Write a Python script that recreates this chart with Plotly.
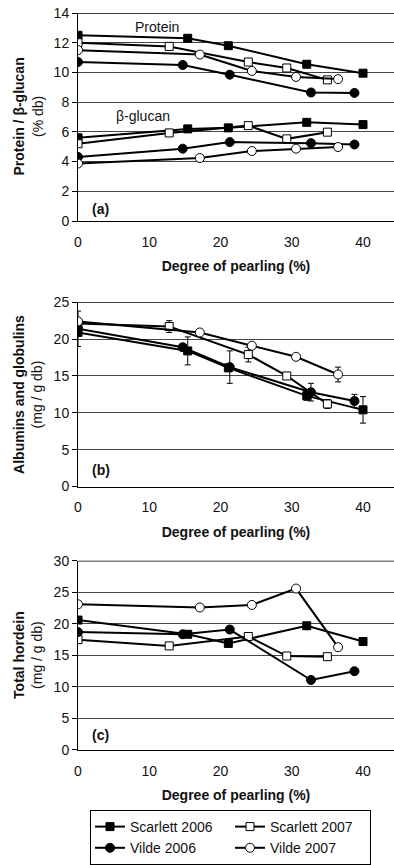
import plotly.graph_objects as go

FONT = "Arial, Liberation Sans, sans-serif"

# ---------------- Data ----------------
series_names = ["Scarlett 2006", "Scarlett 2007", "Vilde 2006", "Vilde 2007"]

# Degree of pearling (%)
x_s06 = [0, 15.4, 21.1, 32.1, 40.0]
x_s07 = [0, 12.8, 23.9, 29.3, 35.0]
x_v06 = [0, 14.7, 21.3, 32.7, 38.8]
x_v07 = [0, 17.1, 24.4, 30.6, 36.5]

# (a) Protein (% db)
prot_s06 = [12.5, 12.3, 11.8, 10.55, 9.95]
prot_s07 = [12.0, 11.75, 10.7, 10.3, 9.5]
prot_v06 = [10.7, 10.5, 9.85, 8.65, 8.62]
prot_v07 = [11.5, 11.2, 10.1, 9.7, 9.55]

# (a) beta-glucan (% db)
bg_s06 = [5.6, 6.2, 6.27, 6.64, 6.49]
bg_s07 = [5.2, 5.93, 6.42, 5.53, 5.98]
bg_v06 = [4.31, 4.87, 5.31, 5.24, 5.15]
bg_v07 = [3.87, 4.24, 4.71, 4.87, 4.98]

# (b) Albumins and globulins (mg / g db) with error bars
ag_s06 = [20.9, 18.4, 16.1, 12.3, 10.4]
ag_s06_err = [0.5, 1.9, 0.5, 0.6, 1.8]
ag_s07 = [22.1, 21.7, 17.9, 15.0, 11.2]
ag_s07_err = [0.4, 0.8, 1.0, 0.4, 0.6]
ag_v06 = [21.4, 18.9, 16.2, 12.8, 11.6]
ag_v06_err = [2.4, 0.5, 2.2, 1.2, 0.9]
ag_v07 = [22.4, 20.9, 19.1, 17.6, 15.2]
ag_v07_err = [0.3, 0.3, 0.3, 0.3, 1.0]

# (c) Total hordein (mg / g db)
hd_s06 = [20.6, 18.35, 16.9, 19.7, 17.2]
hd_s07 = [17.5, 16.5, 18.0, 14.9, 14.8]
hd_v06 = [18.7, 18.35, 19.1, 11.1, 12.5]
hd_v07 = [23.1, 22.6, 23.0, 25.6, 16.3]

# ---------------- Styles ----------------
styles = {
    "Scarlett 2006": dict(symbol="square", color="black", size=8),
    "Scarlett 2007": dict(symbol="square", color="white", size=8),
    "Vilde 2006": dict(symbol="circle", color="black", size=9),
    "Vilde 2007": dict(symbol="circle", color="white", size=9),
}

X = {"Scarlett 2006": x_s06, "Scarlett 2007": x_s07, "Vilde 2006": x_v06, "Vilde 2007": x_v07}
PROT = {"Scarlett 2006": prot_s06, "Scarlett 2007": prot_s07, "Vilde 2006": prot_v06, "Vilde 2007": prot_v07}
BG = {"Scarlett 2006": bg_s06, "Scarlett 2007": bg_s07, "Vilde 2006": bg_v06, "Vilde 2007": bg_v07}
AG = {"Scarlett 2006": ag_s06, "Scarlett 2007": ag_s07, "Vilde 2006": ag_v06, "Vilde 2007": ag_v07}
AGE = {"Scarlett 2006": ag_s06_err, "Scarlett 2007": ag_s07_err, "Vilde 2006": ag_v06_err, "Vilde 2007": ag_v07_err}
HD = {"Scarlett 2006": hd_s06, "Scarlett 2007": hd_s07, "Vilde 2006": hd_v06, "Vilde 2007": hd_v07}

fig = go.Figure()


def add(name, x, y, xa, ya, show=False, err=None):
    st = styles[name]
    kw = {}
    if err is not None:
        kw["error_y"] = dict(type="data", array=err, visible=True, color="black",
                             thickness=1, width=3)
    fig.add_trace(go.Scatter(
        x=x, y=y, mode="lines+markers", name=name, legendgroup=name,
        showlegend=show, xaxis=xa, yaxis=ya,
        line=dict(color="black", width=2),
        marker=dict(symbol=st["symbol"], size=st["size"], color=st["color"],
                    line=dict(color="black", width=1)),
        **kw))


order = ["Scarlett 2006", "Scarlett 2007", "Vilde 2006", "Vilde 2007"]
for n in order:
    add(n, X[n], PROT[n], "x", "y", show=True)
    add(n, X[n], BG[n], "x", "y")
for n in order:
    add(n, X[n], AG[n], "x2", "y2", err=AGE[n])
for n in order:
    add(n, X[n], HD[n], "x3", "y3")

# ---------------- Layout ----------------
W, H = 394, 865
ml, mr, mt, mb = 78, 0, 13, 108
ph = H - mt - mb


def dom(top_px, bot_px):
    return [(H - mb - bot_px) / ph, (H - mb - top_px) / ph]


FS = 14
tickfont = dict(family=FONT, size=FS, color="#111")
xcommon = dict(range=[0, 44.35], tickvals=[0, 10, 20, 30, 40], showgrid=False,
               zeroline=False, showline=True, linecolor="black", linewidth=1,
               ticks="", tickfont=tickfont, ticklabelstandoff=8,
               title=dict(text="<b>Degree of pearling (%)</b>",
                          font=dict(family=FONT, size=FS, color="#111"), standoff=12))
ycommon = dict(showgrid=True, gridcolor="#444", gridwidth=1, zeroline=False,
               showline=True, linecolor="black", linewidth=1, ticks="outside",
               ticklen=5, tickcolor="black", tickfont=tickfont)

fig.update_layout(
    width=W, height=H, margin=dict(l=ml, r=mr, t=mt, b=mb),
    paper_bgcolor="white", plot_bgcolor="white",
    font=dict(family=FONT, size=FS, color="#111"),
    xaxis=dict(domain=[0, 1], anchor="y", **xcommon),
    yaxis=dict(domain=dom(13, 223), anchor="x", range=[0, 14], dtick=2, **ycommon),
    xaxis2=dict(domain=[0, 1], anchor="y2", **xcommon),
    yaxis2=dict(domain=dom(305, 491), anchor="x2", range=[0, 25], dtick=5, **ycommon),
    xaxis3=dict(domain=[0, 1], anchor="y3", **xcommon),
    yaxis3=dict(domain=dom(566, 757), anchor="x3", range=[0, 30], dtick=5, **ycommon),
    legend=dict(orientation="h", x=(90 - ml) / (W - ml), y=-61 / ph,
                xanchor="left", yanchor="top", bordercolor="black", borderwidth=1,
                font=dict(family=FONT, size=FS, color="#111"),
                entrywidth=95, entrywidthmode="pixels", tracegroupgap=0,
                itemwidth=30),
    showlegend=True,
)

# top border lines
for ya, top in (("y", 14), ("y2", 25), ("y3", 30)):
    fig.add_shape(type="line", xref="x domain" if ya == "y" else ("x2 domain" if ya == "y2" else "x3 domain"),
                  yref=ya, x0=0, x1=1, y0=top, y1=top, line=dict(color="black", width=1.5))

ann_font = dict(family=FONT, size=FS, color="#111")
annotations = [
    dict(text="Protein", x=11.05, y=13.07, xref="x", yref="y", showarrow=False, font=ann_font),
    dict(text="β-glucan", x=9.1, y=7.07, xref="x", yref="y", showarrow=False, font=ann_font),
    dict(text="<b>(a)</b>", x=1.7, y=0.8, xref="x", yref="y", xanchor="left", showarrow=False, font=ann_font),
    dict(text="<b>(b)</b>", x=1.7, y=2.3, xref="x2", yref="y2", xanchor="left", showarrow=False, font=ann_font),
    dict(text="<b>(c)</b>", x=1.7, y=2.35, xref="x3", yref="y3", xanchor="left", showarrow=False, font=ann_font),
]
ytitles = [("y domain", "<b>Protein / β-glucan</b><br>(% db)"),
           ("y2 domain", "<b>Albumins and globulins</b><br>(mg / g db)"),
           ("y3 domain", "<b>Total hordein</b><br>(mg / g db)")]
for yref, txt in ytitles:
    annotations.append(dict(text=txt, x=0, y=0.5, xref="paper", yref=yref, xshift=-49.5,
                            xanchor="center", yanchor="middle", textangle=-90,
                            showarrow=False, font=ann_font))
fig.update_layout(annotations=annotations)

fig.write_html("out.html")
